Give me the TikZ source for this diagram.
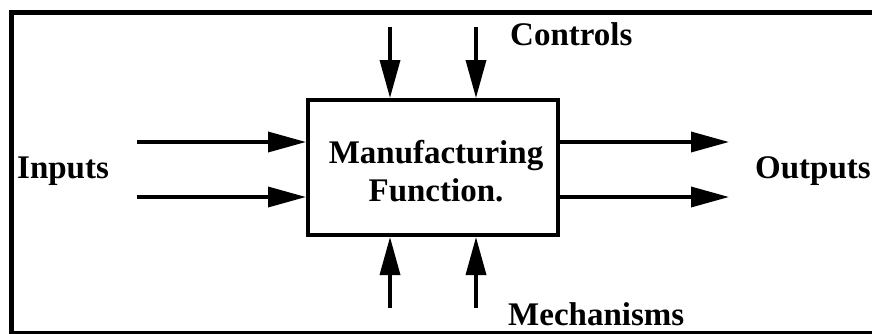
\documentclass[tikz,border=0pt]{standalone}
\usepackage{fontspec}
\setmainfont{Liberation Serif}
\usetikzlibrary{arrows.meta}
\begin{document}
\begin{tikzpicture}[x=1pt,y=-1pt,
  flow/.style={line width=3.5pt,-{Triangle[length=38pt,width=20pt]}},
  lbl/.style={font=\fontsize{33}{38}\selectfont\bfseries}]
  \useasboundingbox (0,0) rectangle (872,333);
  % frame, open on the right
  \draw[line width=5pt] (872,12)--(11.5,12)--(11.5,333)--(872,333);
  % the function box
  \node[draw,line width=4pt,minimum width=250pt,minimum height=135pt] (fn) at (433,167.5) {};
  \node[lbl,align=center] (fntext) at (436,171) {Manufacturing\\Function.};
  % free ends of the arrows
  \coordinate (c1) at (390,27);
  \coordinate (c2) at (476,27);
  \coordinate (m1) at (390,308);
  \coordinate (m2) at (476,308);
  \coordinate (i1) at (137,142);
  \coordinate (i2) at (137,197);
  \coordinate (o1) at (729,142);
  \coordinate (o2) at (729,197);
  \draw[flow] (c1) -- (c1 |- fn.north);
  \draw[flow] (c2) -- (c2 |- fn.north);
  \draw[flow] (m1) -- (m1 |- fn.south);
  \draw[flow] (m2) -- (m2 |- fn.south);
  \draw[flow] (i1) -- (i1 -| fn.west);
  \draw[flow] (i2) -- (i2 -| fn.west);
  \draw[flow] (fn.east |- o1) -- (o1);
  \draw[flow] (fn.east |- o2) -- (o2);
  % labels
  \node[lbl,anchor=base west,inner xsep=0pt] (ctl) at (510,45) {Controls};
  \node[lbl,anchor=base west,inner xsep=0pt] (mech) at (508,325) {Mechanisms};
  \node[lbl,anchor=base west,inner xsep=0pt] (inp) at (17,178) {Inputs};
  \node[lbl,anchor=base west,inner xsep=0pt] (outp) at (755,178) {Outputs};
\end{tikzpicture}
\end{document}
